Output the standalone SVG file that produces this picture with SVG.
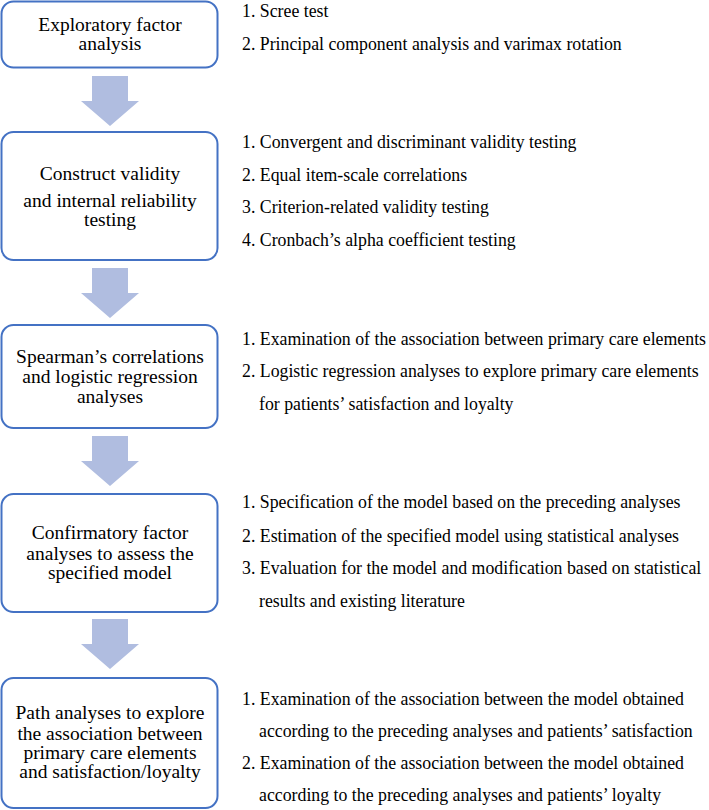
<svg xmlns="http://www.w3.org/2000/svg" width="709" height="810" viewBox="0 0 709 810" font-family="Liberation Serif, Times New Roman, Times, serif">
<defs>
<style>
.box{fill:#ffffff;stroke:#4472c4;stroke-width:2}
.bt{font-size:19.5px;fill:#000;text-anchor:middle}
.rt{font-size:17.8px;fill:#000}
.arr{fill:#b0bde0}
</style>
<path id="arrow" d="M-18,0 H18 V25 H29 L0,50 L-29,25 H-18 Z"/>
</defs>
<rect width="709" height="810" fill="#ffffff"/>
<g id="connectors">
<use href="#arrow" class="arr" x="110" y="76"/>
<use href="#arrow" class="arr" x="110" y="268"/>
<use href="#arrow" class="arr" x="110" y="436"/>
<use href="#arrow" class="arr" x="110" y="619"/>
</g>
<g id="node1">
<rect class="box" x="1.5" y="1.5" width="216" height="66" rx="12"/>
<text class="bt" x="110" y="31">Exploratory factor</text>
<text class="bt" x="110" y="50">analysis</text>
</g>
<g id="list1">
<text class="rt" x="242" y="17">1. Scree test</text>
<text class="rt" x="242" y="50">2. Principal component analysis and varimax rotation</text>
</g>
<g id="node2">
<rect class="box" x="1.5" y="132" width="216" height="128" rx="12"/>
<text class="bt" x="110" y="180">Construct validity</text>
<text class="bt" x="110" y="207">and internal reliability</text>
<text class="bt" x="110" y="226">testing</text>
</g>
<g id="list2">
<text class="rt" x="242" y="148">1. Convergent and discriminant validity testing</text>
<text class="rt" x="242" y="181">2. Equal item-scale correlations</text>
<text class="rt" x="242" y="213">3. Criterion-related validity testing</text>
<text class="rt" x="242" y="246">4. Cronbach’s alpha coefficient testing</text>
</g>
<g id="node3">
<rect class="box" x="1.5" y="325" width="216" height="103" rx="12"/>
<text class="bt" x="110" y="363">Spearman’s correlations</text>
<text class="bt" x="110" y="383">and logistic regression</text>
<text class="bt" x="110" y="403">analyses</text>
</g>
<g id="list3">
<text class="rt" x="242" y="345" textLength="464" lengthAdjust="spacingAndGlyphs">1. Examination of the association between primary care elements</text>
<text class="rt" x="242" y="377">2. Logistic regression analyses to explore primary care elements</text>
<text class="rt" x="259" y="410">for patients’ satisfaction and loyalty</text>
</g>
<g id="node4">
<rect class="box" x="1.5" y="494" width="216" height="118" rx="12"/>
<text class="bt" x="110" y="539">Confirmatory factor</text>
<text class="bt" x="110" y="560">analyses to assess the</text>
<text class="bt" x="110" y="579">specified model</text>
</g>
<g id="list4">
<text class="rt" x="242" y="508">1. Specification of the model based on the preceding analyses</text>
<text class="rt" x="242" y="542">2. Estimation of the specified model using statistical analyses</text>
<text class="rt" x="242" y="574">3. Evaluation for the model and modification based on statistical</text>
<text class="rt" x="259" y="607">results and existing literature</text>
</g>
<g id="node5">
<rect class="box" x="1.5" y="678" width="216" height="130" rx="12"/>
<text class="bt" x="110" y="719">Path analyses to explore</text>
<text class="bt" x="110" y="740">the association between</text>
<text class="bt" x="110" y="759">primary care elements</text>
<text class="bt" x="110" y="778">and satisfaction/loyalty</text>
</g>
<g id="list5">
<text class="rt" x="242" y="705">1. Examination of the association between the model obtained</text>
<text class="rt" x="259" y="737">according to the preceding analyses and patients’ satisfaction</text>
<text class="rt" x="242" y="769">2. Examination of the association between the model obtained</text>
<text class="rt" x="259" y="801">according to the preceding analyses and patients’ loyalty</text>
</g>
</svg>
